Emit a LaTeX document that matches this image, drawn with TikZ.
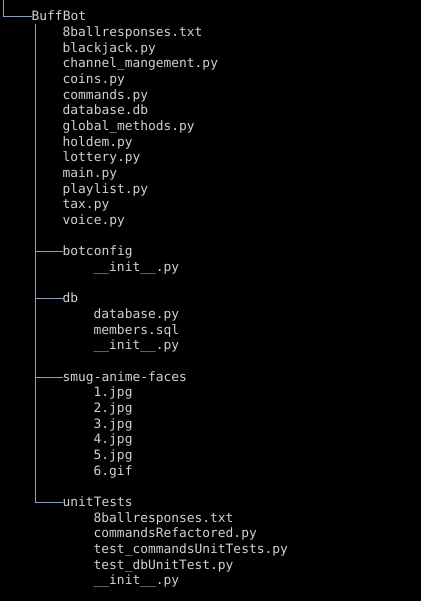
\documentclass[tikz,border=0pt]{standalone}
\usepackage{fontspec}
\setmonofont{DejaVu Sans Mono}
\usetikzlibrary{positioning}
\usetikzlibrary{calc}

\definecolor{termtext}{RGB}{210,210,210}
\definecolor{termline}{RGB}{140,162,190}

\begin{document}
\begin{tikzpicture}[x=1pt, y=-1pt,
    item/.style={anchor=west, inner sep=0pt, text=termtext, text height=10pt, text depth=2pt,
        font=\ttfamily\fontsize{12.9}{15}\selectfont},
    branch/.style={draw=termline, line width=1pt}]

\def \lh{15.66}
\def \cw{7.75}

\fill[black] (0,0) rectangle (421,601);
\useasboundingbox (0,0) rectangle (421,601);

\node[item] (buffbot) at (4*\cw+0.5, 17) {BuffBot};

\foreach \name [count=\i] in {8ballresponses.txt, blackjack.py, channel\_mangement.py,
    coins.py, commands.py, database.db, global\_methods.py, holdem.py, lottery.py,
    main.py, playlist.py, tax.py, voice.py}
    \node[item] (buff-\i) at (8*\cw+0.5, 17+\i*\lh) {\name};

\node[item] (botconfig) at (8*\cw+0.5, 17+15*\lh) {botconfig};
\node[item] (botconfig-1) at (12*\cw+0.5, 17+16*\lh) {\_\_init\_\_.py};

\node[item] (db) at (8*\cw+0.5, 17+18*\lh) {db};
\foreach \name [count=\i] in {database.py, members.sql, \_\_init\_\_.py}
    \node[item] (db-\i) at (12*\cw+0.5, 17+18*\lh+\i*\lh) {\name};

\node[item] (smug) at (8*\cw+0.5, 17+23*\lh) {smug-anime-faces};
\foreach \name [count=\i] in {1.jpg, 2.jpg, 3.jpg, 4.jpg, 5.jpg, 6.gif}
    \node[item] (smug-\i) at (12*\cw+0.5, 17+23*\lh+\i*\lh) {\name};

\node[item] (unittests) at (8*\cw+0.5, 17+31*\lh) {unitTests};
\foreach \name [count=\i] in {8ballresponses.txt, commandsRefactored.py,
    test\_commandsUnitTests.py, test\_dbUnitTest.py, \_\_init\_\_.py}
    \node[item] (unittests-\i) at (12*\cw+0.5, 17+31*\lh+\i*\lh) {\name};

% tree lines
\coordinate (top) at (3.5, 0);
\coordinate (trunk) at (35, 24);

\draw[branch] (top) |- (buffbot.west);
\draw[branch] (trunk) |- (unittests.west);
\draw[branch] (trunk |- botconfig.west) -- (botconfig.west);
\draw[branch] (trunk |- db.west) -- (db.west);
\draw[branch] (trunk |- smug.west) -- (smug.west);

\end{tikzpicture}
\end{document}
